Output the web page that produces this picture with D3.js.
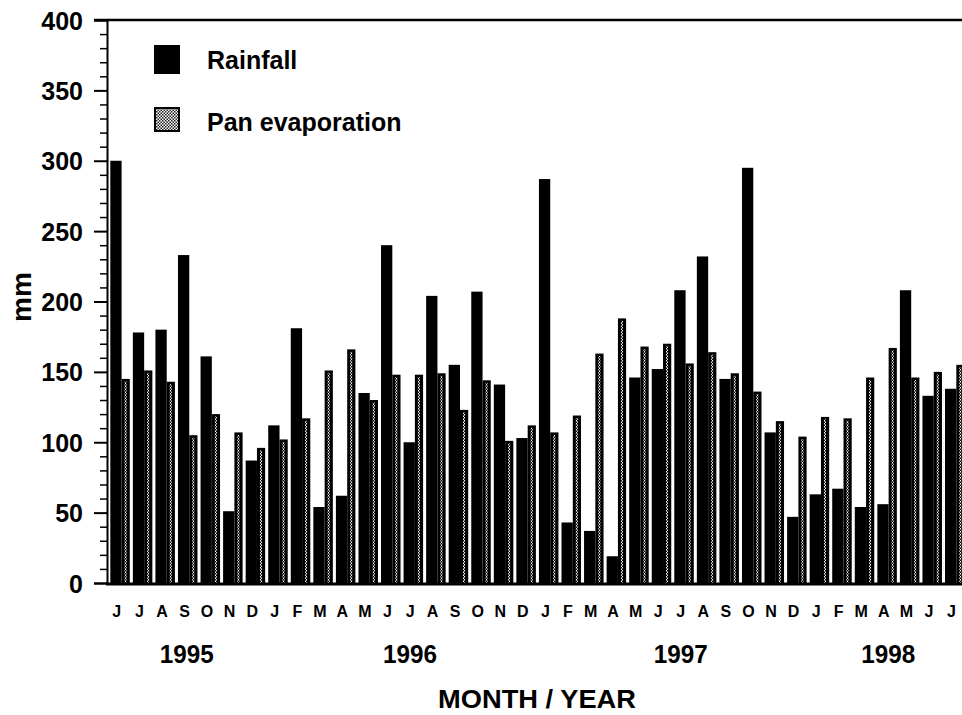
<!DOCTYPE html>
<html><head><meta charset="utf-8">
<script src="https://cdn.jsdelivr.net/npm/d3@7"></script>
<style>
html,body{margin:0;padding:0;background:#fff;}
svg text{font-family:"Liberation Sans",Arial,Helvetica,sans-serif;font-weight:bold;fill:#000;}
</style>
</head><body>
<svg id="chart" width="962" height="715"></svg>
<script>
const months = ["J","J","A","S","O","N","D","J","F","M","A","M","J","J","A","S","O","N","D","J","F","M","A","M","J","J","A","S","O","N","D","J","F","M","A","M","J","J"];
const rainfall = [300,178,180,233,161,51,87,112,181,54,62,135,240,100,204,155,207,141,103,287,43,37,19,146,152,208,232,145,295,107,47,63,67,54,56,208,133,138];
const evaporation = [145,151,143,105,120,107,96,102,117,151,166,130,148,148,149,123,144,101,112,107,119,163,188,168,170,156,164,149,136,115,104,118,117,146,167,146,150,155];
const years = ["1995","1996","1997","1998"];
const yearAnchors = [3.1, 13.0, 25.0, 34.2];
const yTicks = [0,50,100,150,200,250,300,350,400];
const seriesNames = ["Rainfall","Pan evaporation"];

const svg = d3.select("#chart");
const defs = svg.append("defs");
const zig = defs.append("pattern").attr("id","zig").attr("patternUnits","userSpaceOnUse")
  .attr("width",2).attr("height",3);
zig.append("rect").attr("width",2).attr("height",3).attr("fill","#000");
zig.append("rect").attr("x",0).attr("y",0).attr("width",1).attr("height",1.5).attr("fill","#fff");
zig.append("rect").attr("x",1).attr("y",1.5).attr("width",1).attr("height",1.5).attr("fill","#fff");
const hatch = defs.append("pattern").attr("id","hatch").attr("patternUnits","userSpaceOnUse")
  .attr("width",3).attr("height",3);
hatch.append("rect").attr("width",3).attr("height",3).attr("fill","#fff");
hatch.append("rect").attr("width",1.5).attr("height",1.5).attr("fill","#222");
hatch.append("rect").attr("x",1.5).attr("y",1.5).attr("width",1.5).attr("height",1.5).attr("fill","#222");

const y = d3.scaleLinear().domain([0,400]).range([583,20]);
const x = d3.scaleBand().domain(d3.range(months.length)).range([110.3, 110.3 + 38*22.56]).paddingInner(0).paddingOuter(0);
const rainW = 11.3, evapW = 8.2;
const labelX = i => x(i) + 6.5;
const yearX = d3.scaleLinear().domain([0, months.length-1]).range([labelX(0), labelX(months.length-1)]);

const g = svg.append("g");
g.selectAll("rect.rain").data(rainfall).join("rect").attr("class","rain")
  .attr("x",(d,i)=>Math.max(107, x(i))).attr("width",(d,i)=>x(i)+rainW-Math.max(107,x(i)))
  .attr("y",d=>y(d)).attr("height",d=>y(0)-y(d)).attr("fill","#000");
g.selectAll("rect.evap").data(evaporation).join("rect").attr("class","evap")
  .attr("x",(d,i)=>x(i)+rainW).attr("width",evapW)
  .attr("y",d=>y(d)).attr("height",d=>y(0)-y(d)).attr("fill","#000");
g.selectAll("rect.evapin").data(evaporation).join("rect").attr("class","evapin")
  .attr("x",(d,i)=>x(i)+rainW+3).attr("width",2)
  .attr("y",d=>y(d)+2.5).attr("height",d=>y(0)-y(d)-2.5).attr("fill","url(#zig)");

const yAxis = d3.axisLeft(y).tickValues(yTicks).tickSize(13).tickFormat(d3.format("d"));
const ya = svg.append("g").attr("transform","translate(107,0)").call(yAxis);
ya.select(".domain").attr("stroke","#000").attr("stroke-width",2);
ya.selectAll(".tick line").attr("stroke","#000").attr("stroke-width",2);
ya.selectAll(".tick text").attr("font-size",25).attr("x",-24).attr("dy","0.36em")
  .style("font-family","'Liberation Sans',Arial,sans-serif").style("font-weight","bold");
const minor = d3.range(0,401,10).filter(v=>v%50!==0);
svg.append("g").attr("transform","translate(107,0)").call(d3.axisLeft(y).tickValues(minor).tickSize(7).tickFormat(""))
  .call(s=>{s.select(".domain").remove(); s.selectAll(".tick line").attr("stroke","#000").attr("stroke-width",1.5);});

svg.append("line").attr("x1",94).attr("x2",962).attr("y1",y(400)).attr("y2",y(400)).attr("stroke","#000").attr("stroke-width",2.5);
svg.append("line").attr("x1",106).attr("x2",962).attr("y1",y(0)+1).attr("y2",y(0)+1).attr("stroke","#000").attr("stroke-width",3);

svg.append("g").selectAll("text").data(months).join("text")
  .attr("x",(d,i)=>labelX(i)).attr("y",617).attr("text-anchor","middle").attr("font-size",16).text(d=>d);
svg.append("g").selectAll("text").data(years).join("text")
  .attr("x",(d,i)=>yearX(yearAnchors[i])).attr("y",663).attr("text-anchor","middle")
  .attr("font-size",25).attr("textLength",54).attr("lengthAdjust","spacingAndGlyphs").text(d=>d);
svg.append("text").attr("x",537).attr("y",708).attr("text-anchor","middle").attr("font-size",25)
  .attr("textLength",198).attr("lengthAdjust","spacingAndGlyphs").text("MONTH / YEAR");
svg.append("text").attr("transform","translate(31,297) rotate(-90)").attr("text-anchor","middle")
  .attr("font-size",28).text("mm");

const leg = svg.append("g");
leg.append("rect").attr("x",154).attr("y",45).attr("width",26).attr("height",29).attr("fill","#000");
leg.append("rect").attr("x",155).attr("y",108).attr("width",24).attr("height",23).attr("fill","url(#hatch)").attr("stroke","#000").attr("stroke-width",2);
leg.selectAll("text").data(seriesNames).join("text")
  .attr("x",207).attr("y",(d,i)=>i===0?69:131).attr("font-size",25).text(d=>d);
</script>
</body></html>
